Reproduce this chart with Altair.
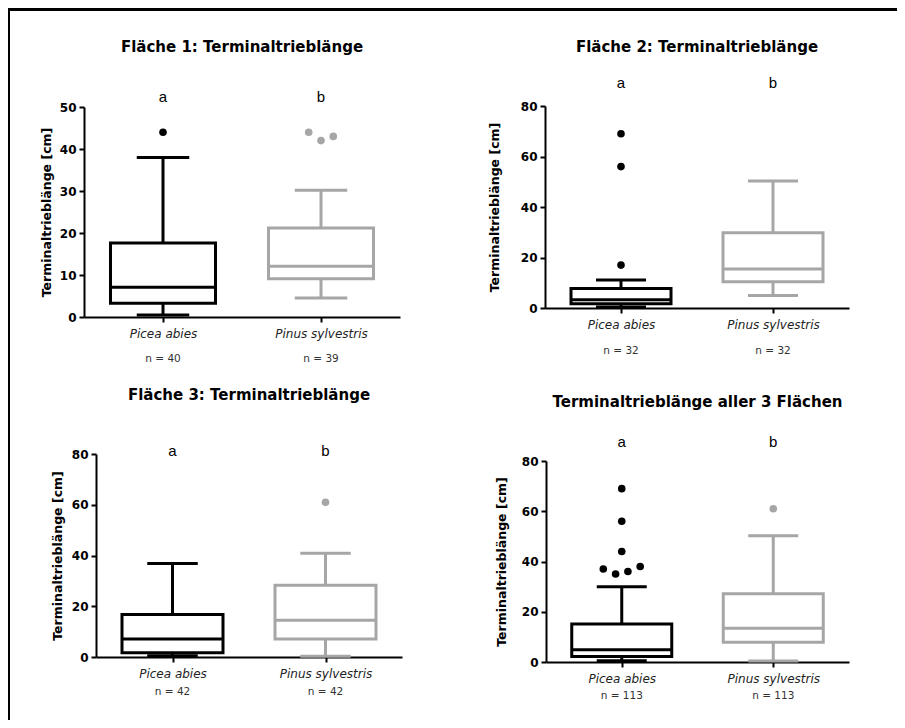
import altair as alt
import pandas as pd

# ---------------- data ----------------
species = ["Picea abies", "Pinus sylvestris"]
letters = ["a", "b"]
titles = [
    "Fläche 1: Terminaltrieblänge",
    "Fläche 2: Terminaltrieblänge",
    "Fläche 3: Terminaltrieblänge",
    "Terminaltrieblänge aller 3 Flächen",
]
y_title = "Terminaltrieblänge [cm]"
n_counts = [[40, 39], [32, 32], [42, 42], [113, 113]]
y_max = [50, 80, 80, 80]
y_step = [10, 20, 20, 20]

# per panel: [Picea abies, Pinus sylvestris]
whisker_low = [[0.5, 4.5], [0.4, 5.0], [0.5, 0.3], [0.5, 0.4]]
q1 = [[3.3, 9.1], [1.7, 10.4], [1.7, 7.1], [2.2, 7.9]]
median = [[7.1, 12.1], [3.3, 15.4], [7.1, 14.5], [4.9, 13.4]]
q3 = [[17.6, 21.2], [7.7, 29.8], [16.7, 28.3], [15.1, 27.2]]
whisker_high = [[38.0, 30.2], [11.1, 50.3], [36.8, 40.9], [30.0, 50.2]]

# outliers
outlier_panel = [0, 0, 0, 0, 1, 1, 1, 2, 3, 3, 3, 3, 3, 3, 3, 3]
outlier_species = [0, 1, 1, 1, 0, 0, 0, 1, 0, 0, 0, 0, 0, 0, 0, 1]
outlier_value = [44, 44, 42, 43, 17, 56, 69, 61, 69, 56, 44, 37, 35, 36, 38, 61]
outlier_slot = [0, -1, 0, 1, 0, 0, 0, 0, 0, 0, 0, -1.5, -0.5, 0.5, 1.5, 0]

# ---------------- layout (pixels) ----------------
W, H = 889, 712
x_range = [[76, 392], [537, 841], [88, 394], [538, 841]]
y_range = [[309, 99], [300, 98], [649, 446], [654, 453]]
title_y = [39, 39, 387, 394]
letter_y = [89, 75, 443, 434]
n_y = [351, 343, 684, 688]
box_w = [105, 100, 101, 100]
ytitle_pad = [6, 19, 7, 13]

BLACK = "#000000"
GRAY = "#a6a6a6"
FONT = "DejaVu Sans"
ARIAL = "Liberation Sans"

color_scale = alt.Scale(domain=species, range=[BLACK, GRAY])
slot_scale = alt.Scale(domain=[-1, 1], range=[-12.3, 12.3])


def panel(i):
    box_df = pd.DataFrame({
        "species": species,
        "low": whisker_low[i],
        "q1": q1[i],
        "median": median[i],
        "q3": q3[i],
        "high": whisker_high[i],
        "letter": letters,
        "nlabel": [f"n = {n}" for n in n_counts[i]],
    })
    out_df = pd.DataFrame({
        "species": [species[s] for p, s in zip(outlier_panel, outlier_species) if p == i],
        "value": [v for p, v in zip(outlier_panel, outlier_value) if p == i],
        "slot": [v for p, v in zip(outlier_panel, outlier_slot) if p == i],
    })
    title_df = pd.DataFrame({"title": [titles[i]]})

    x_enc = alt.X(
        "species:N",
        scale=alt.Scale(type="point", domain=species, range=x_range[i], padding=0.5),
        axis=alt.Axis(
            orient="bottom", offset=y_range[i][0] - H, title=None,
            labelAngle=0, labelFont=FONT, labelFontSize=12, labelFontStyle="italic",
            labelFontWeight="normal", labelColor="#222222", labelPadding=6,
            tickSize=5, tickWidth=2, tickColor=BLACK, domainColor=BLACK, domainWidth=2,
            grid=False,
        ),
    )

    def y_enc(field):
        return alt.Y(
            field,
            type="quantitative",
            scale=alt.Scale(domain=[0, y_max[i]], range=y_range[i], nice=False, zero=True),
            axis=alt.Axis(
                orient="left", offset=-x_range[i][0], title=y_title,
                values=list(range(0, y_max[i] + 1, y_step[i])),
                labelFont=FONT, labelFontSize=12, labelFontWeight="bold", labelColor=BLACK,
                labelPadding=3, tickSize=5, tickWidth=2, tickColor=BLACK,
                domainColor=BLACK, domainWidth=2, grid=False,
                titleFont=FONT, titleFontSize=12.5, titleFontWeight="bold", titleColor=BLACK,
                titlePadding=ytitle_pad[i],
            ),
        )

    stroke = alt.Stroke("species:N", scale=color_scale, legend=None)
    colr = alt.Color("species:N", scale=color_scale, legend=None)
    base = alt.Chart(box_df)

    lower = base.mark_rule(strokeWidth=3).encode(x=x_enc, y=y_enc("low"), y2="q1", stroke=stroke)
    upper = base.mark_rule(strokeWidth=3).encode(x=x_enc, y=y_enc("q3"), y2="high", stroke=stroke)
    cap_lo = base.mark_tick(size=box_w[i] / 2, thickness=3, opacity=1).encode(
        x=x_enc, y=y_enc("low"), color=colr)
    cap_hi = base.mark_tick(size=box_w[i] / 2, thickness=3, opacity=1).encode(
        x=x_enc, y=y_enc("high"), color=colr)
    box = base.mark_bar(size=box_w[i], fill="white", strokeWidth=3, opacity=1).encode(
        x=x_enc, y=y_enc("q1"), y2="q3", stroke=stroke)
    med = base.mark_tick(size=box_w[i], thickness=3, opacity=1).encode(
        x=x_enc, y=y_enc("median"), color=colr)
    pts = alt.Chart(out_df).mark_circle(size=58, opacity=1).encode(
        x=x_enc, y=y_enc("value"), color=colr,
        xOffset=alt.XOffset("slot:Q", scale=slot_scale),
    )
    let = base.mark_text(font=ARIAL, fontSize=15, color=BLACK).encode(
        x=x_enc, y=alt.value(letter_y[i]), text="letter:N")
    nlab = base.mark_text(font=FONT, fontSize=10.5, color="#333333").encode(
        x=x_enc, y=alt.value(n_y[i]), text="nlabel:N")
    ttl = alt.Chart(title_df).mark_text(font=FONT, fontSize=15, fontWeight="bold", color=BLACK).encode(
        x=alt.value(sum(x_range[i]) / 2), y=alt.value(title_y[i]), text="title:N")

    return alt.layer(lower, upper, cap_lo, cap_hi, box, med, pts, let, nlab, ttl)


frame_df = pd.DataFrame({"k": [0]})
top_line = alt.Chart(frame_df).mark_rule(strokeWidth=3, color=BLACK).encode(
    x=alt.value(0), x2=alt.value(W), y=alt.value(1.5))
left_line = alt.Chart(frame_df).mark_rule(strokeWidth=2, color=BLACK).encode(
    x=alt.value(1), y=alt.value(0), y2=alt.value(H))

chart = alt.layer(
    top_line, left_line, panel(0), panel(1), panel(2), panel(3)
).resolve_scale(
    x="independent", y="independent"
).properties(
    width=W, height=H, autosize=alt.AutoSizeParams(type="none"), padding=0
).configure_view(stroke=None)

chart.save("out.html", embed_options={"renderer": "svg", "actions": False})
